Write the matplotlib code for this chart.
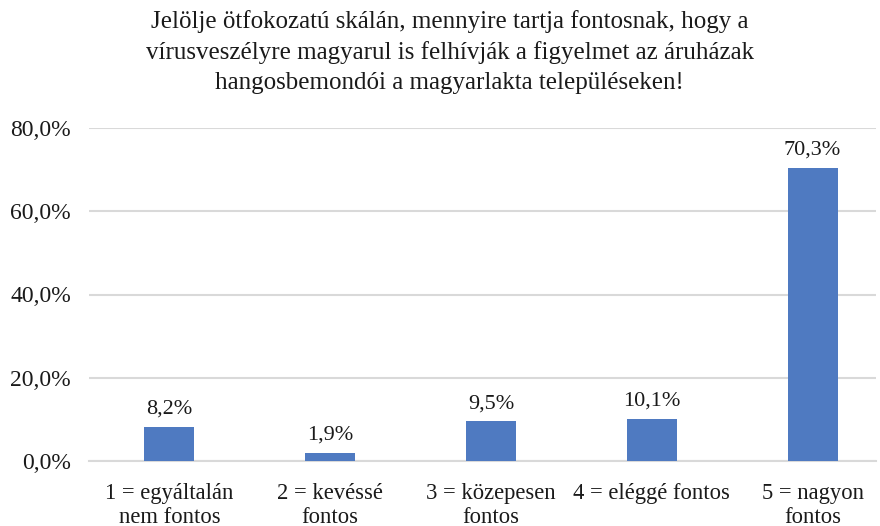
import matplotlib
matplotlib.use('Agg')
import matplotlib.pyplot as plt

# Data
categories = ['1 = egyáltalán\nnem fontos', '2 = kevéssé\nfontos', '3 = közepesen\nfontos',
              '4 = eléggé fontos', '5 = nagyon\nfontos']
values = [8.2, 1.9, 9.5, 10.1, 70.3]
yticks = [0, 20, 40, 60, 80]
title = ('Jelölje ötfokozatú skálán, mennyire tartja fontosnak, hogy a\n'
         'vírusveszélyre magyarul is felhívják a figyelmet az áruházak\n'
         'hangosbemondói a magyarlakta településeken!')

plt.rcParams['font.family'] = ['Liberation Serif', 'DejaVu Serif']
text_color = '#1a1a1a'
bar_color = '#4F7AC1'
grid_color = '#D9D9D9'

fig = plt.figure(figsize=(8.8, 5.26), dpi=100)
W, H = 880, 526
left, right, top, bottom = 89, 876, 128, 461
ax = fig.add_axes([left / W, (H - bottom) / H, (right - left) / W, (bottom - top) / H])

x = list(range(len(categories)))
ax.bar(x, values, width=0.31, color=bar_color, zorder=3)

for xi, v in zip(x, values):
    ax.annotate(f'{v:.1f}%'.replace('.', ','), (xi, v), xytext=(0, 6),
                textcoords='offset points', ha='center', va='bottom',
                fontsize=16, color=text_color)

ax.set_ylim(0, 80)
ax.set_xlim(-0.5, 4.5 - 17 / 161)
ax.set_yticks(yticks)
ax.set_yticklabels([f'{t:.1f}%'.replace('.', ',') for t in yticks], fontsize=17, color=text_color)
ax.set_xticks(x)
ax.set_xticklabels(categories, fontsize=16.3, color=text_color, linespacing=1.2)
ax.tick_params(axis='both', length=0)
ax.tick_params(axis='y', pad=13)
ax.tick_params(axis='x', pad=16)
ax.grid(axis='y', color=grid_color, linewidth=1.5, zorder=0)
for s in ['top', 'right', 'left']:
    ax.spines[s].set_visible(False)
ax.spines['bottom'].set_color(grid_color)
ax.spines['bottom'].set_linewidth(1.5)

fig.text(0.511, 1 - 52 / H, title, ha='center', va='center', fontsize=18,
         color=text_color, linespacing=1.45)

fig.savefig('out.png', dpi=100)
